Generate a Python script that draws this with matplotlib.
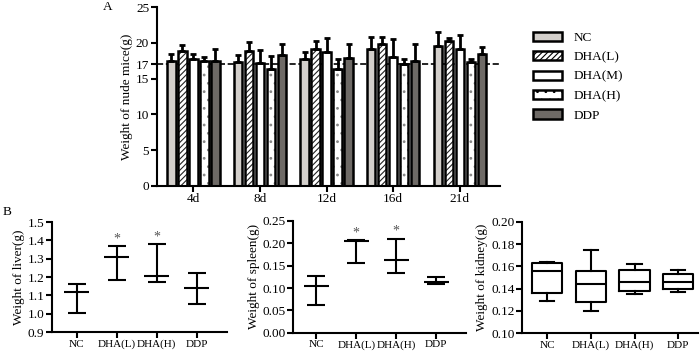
import matplotlib.pyplot as plt
from matplotlib.patches import Patch
import numpy as np

plt.rcParams['font.family'] = ['Liberation Serif', 'DejaVu Serif']
plt.rcParams['font.size'] = 9.5
plt.rcParams['hatch.linewidth'] = 0.8

# panel A: body weight
days = ['4d', '8d', '12d', '16d', '21d']
groups = ['NC', 'DHA(L)', 'DHA(M)', 'DHA(H)', 'DDP']
weight_mean = {
    'NC':     [17.5, 17.3, 17.7, 19.2, 19.6],
    'DHA(L)': [18.8, 18.9, 19.1, 19.9, 20.3],
    'DHA(M)': [17.8, 17.2, 18.7, 18.0, 19.1],
    'DHA(H)': [17.5, 16.3, 16.3, 17.0, 17.3],
    'DDP':    [17.5, 18.3, 17.9, 17.5, 18.4],
}
weight_sd = {
    'NC':     [1.0, 1.0, 1.0, 1.6, 1.9],
    'DHA(L)': [0.9, 1.2, 1.1, 0.9, 0.45],
    'DHA(M)': [0.6, 1.8, 2.0, 2.5, 2.0],
    'DHA(H)': [0.5, 1.8, 1.4, 0.8, 0.5],
    'DDP':    [1.7, 1.6, 1.9, 2.3, 1.05],
}
colors = ['#d3cfcb', 'white', 'white', 'white', '#6e6a66']
hatches = [None, '//////', None, '..', None]
hatch_colors = [None, '#222222', None, '#888888', None]

# panel B: organ weights
cats = ['NC', 'DHA(L)', 'DHA(H)', 'DDP']
liver_mean = [1.12, 1.31, 1.205, 1.14]
liver_lo = [1.005, 1.185, 1.175, 1.055]
liver_hi = [1.16, 1.37, 1.38, 1.22]
spleen_mean = [0.105, 0.204, 0.163, 0.113]
spleen_lo = [0.063, 0.155, 0.133, 0.109]
spleen_hi = [0.127, 0.207, 0.210, 0.124]
kidney_min = [0.129, 0.120, 0.135, 0.137]
kidney_q1 = [0.136, 0.128, 0.138, 0.140]
kidney_med = [0.156, 0.144, 0.146, 0.146]
kidney_q3 = [0.163, 0.156, 0.157, 0.153]
kidney_max = [0.164, 0.175, 0.162, 0.157]
sig = [False, True, True, False]

fig = plt.figure(figsize=(7, 3.56), dpi=100)


def style(ax, xsize=None):
    for s in ['top', 'right']:
        ax.spines[s].set_visible(False)
    for s in ['left', 'bottom']:
        ax.spines[s].set_linewidth(1.5)
    ax.tick_params(width=1.5, length=4, direction='out', pad=1.5)
    if xsize:
        ax.tick_params(axis='x', labelsize=xsize)


# ---- A ----
ax = fig.add_axes([0.224, 0.478, 0.490, 0.502])
x = np.arange(len(days))
pitch = 0.165
for i, g in enumerate(groups):
    xs = x + (i - 2) * pitch
    if hatches[i]:
        ax.bar(xs, weight_mean[g], width=0.125, color=colors[i],
               edgecolor=hatch_colors[i], linewidth=0, hatch=hatches[i], zorder=2)
        ax.bar(xs, weight_mean[g], width=0.125, fill=False, edgecolor='black',
               linewidth=1.8, zorder=2.1)
    else:
        ax.bar(xs, weight_mean[g], width=0.125, color=colors[i], edgecolor='black',
               linewidth=1.8, zorder=2)
    ax.errorbar(xs, weight_mean[g], yerr=[np.zeros(5), weight_sd[g]], fmt='none',
                ecolor='black', elinewidth=2, capsize=2.5, capthick=2, zorder=3)
ax.axhline(17, ls='--', color='black', lw=1.2, zorder=1.5)
ax.set_xlim(-0.55, 4.6)
ax.set_ylim(0, 25)
ax.set_yticks([0, 5, 10, 15, 17, 20, 25])
ax.set_xticks(x)
ax.set_xticklabels(days)
ax.set_ylabel('Weight of nude mice(g)', labelpad=2)
style(ax)
fig.text(0.147, 0.972, 'A', fontsize=9.5)

handles = []
for i, g in enumerate(groups):
    handles.append(Patch(facecolor=colors[i], edgecolor='black', linewidth=1.8,
                         hatch=hatches[i], label=g))
fig.legend(handles=handles, loc='upper left', bbox_to_anchor=(0.752, 0.93),
           frameon=False, handlelength=2.2, handleheight=0.7,
           labelspacing=0.55, handletextpad=0.9, borderpad=0)

fig.text(0.004, 0.395, 'B', fontsize=9.5)


def range_plot(ax, mean, lo, hi):
    xc = np.arange(len(cats))
    ax.vlines(xc, lo, hi, color='black', lw=1.5)
    ax.hlines(mean, xc - 0.31, xc + 0.31, color='black', lw=1.5)
    ax.hlines(lo, xc - 0.22, xc + 0.22, color='black', lw=1.5)
    ax.hlines(hi, xc - 0.22, xc + 0.22, color='black', lw=1.5)
    ax.set_xticks(xc)
    ax.set_xticklabels(cats)
    style(ax, 8)


# liver
ax1 = fig.add_axes([0.074, 0.067, 0.250, 0.309])
range_plot(ax1, liver_mean, liver_lo, liver_hi)
ax1.set_xlim(-0.625, 3.75)
ax1.set_ylim(0.9, 1.5)
ax1.set_yticks(np.arange(0.9, 1.51, 0.1))
ax1.set_yticklabels(['%.1f' % v for v in np.arange(0.9, 1.51, 0.1)])
ax1.set_ylabel('Weight of liver(g)', labelpad=2)
for i in range(len(cats)):
    if sig[i]:
        ax1.text(i, liver_hi[i] + 0.005, '*', ha='center', va='bottom',
                 color='#555555', fontsize=10)

# spleen
ax2 = fig.add_axes([0.419, 0.065, 0.247, 0.315])
range_plot(ax2, spleen_mean, spleen_lo, spleen_hi)
ax2.set_xlim(-0.575, 3.75)
ax2.set_ylim(0, 0.25)
ax2.set_yticks(np.arange(0, 0.251, 0.05))
ax2.set_yticklabels(['%.2f' % v for v in np.arange(0, 0.251, 0.05)])
ax2.set_ylabel('Weight of spleen(g)', labelpad=2)
for i in range(len(cats)):
    if sig[i]:
        ax2.text(i, spleen_hi[i] + 0.002, '*', ha='center', va='bottom',
                 color='#555555', fontsize=10)

# kidney
ax3 = fig.add_axes([0.746, 0.064, 0.251, 0.313])
stats = []
for i, c in enumerate(cats):
    stats.append({'label': c, 'whislo': kidney_min[i], 'q1': kidney_q1[i],
                  'med': kidney_med[i], 'q3': kidney_q3[i],
                  'whishi': kidney_max[i], 'fliers': []})
ax3.bxp(stats, positions=range(len(cats)), widths=0.69, showfliers=False,
        capwidths=0.33,
        boxprops=dict(color='black', lw=1.5),
        medianprops=dict(color='black', lw=1.5),
        whiskerprops=dict(color='black', lw=1.5),
        capprops=dict(color='black', lw=1.5))
ax3.set_xlim(-0.57, 3.45)
ax3.set_ylim(0.10, 0.20)
ax3.set_yticks(np.arange(0.10, 0.201, 0.02))
ax3.set_yticklabels(['%.2f' % v for v in np.arange(0.10, 0.201, 0.02)])
ax3.set_ylabel('Weight of kidney(g)', labelpad=2)
style(ax3, 8)

fig.savefig('out.png', dpi=100)
